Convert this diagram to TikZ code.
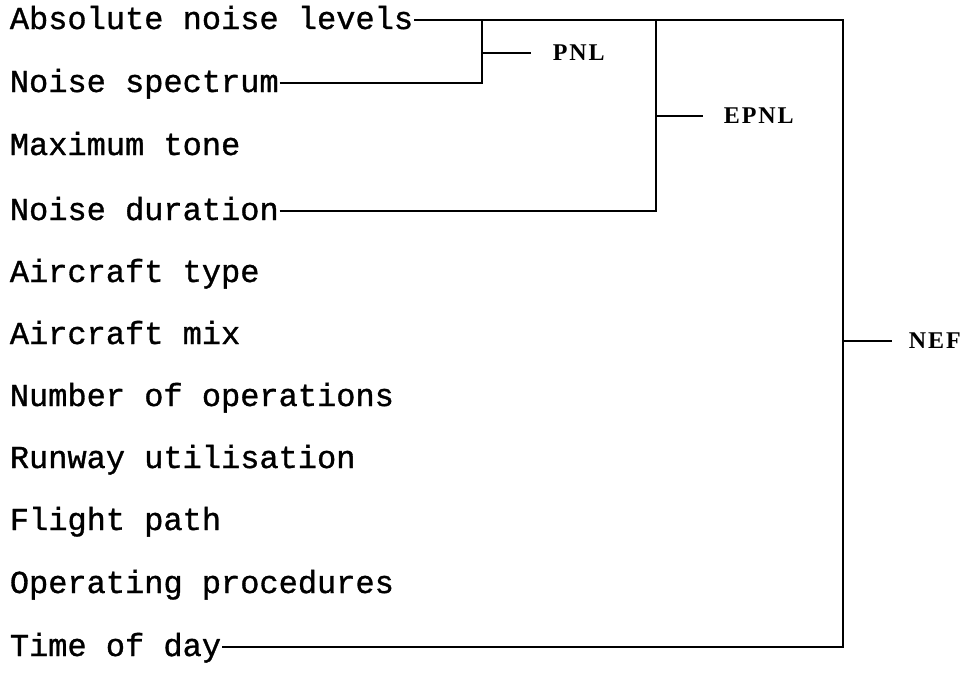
\documentclass[tikz,border=0pt]{standalone}
\usepackage{fontspec}
\newfontfamily\typefont[FakeBold=1]{Liberation Mono}
\newfontfamily\labelfont[LetterSpace=8]{Liberation Serif}
\begin{document}
\begin{tikzpicture}[
x=0.75pt,y=-0.75pt,
line width=1.3pt,
every node/.style={inner sep=0pt,text depth=0pt},
item/.style={anchor=west,font=\typefont\fontsize{24}{24}\selectfont,text height=13.5pt},
result/.style={anchor=west,font=\labelfont\bfseries\fontsize{18}{18}\selectfont,text height=11.9pt}
]
\useasboundingbox (0,0) rectangle (971,678);
\node[item] (abs) at (9,20) {Absolute noise levels};
\node[item] (spec) at (9,83) {Noise spectrum};
\node[item] (tone) at (9,146) {Maximum tone};
\node[item] (dur) at (9,211) {Noise duration};
\node[item] (type) at (9,273) {Aircraft type};
\node[item] (mix) at (9,335) {Aircraft mix};
\node[item] (ops) at (9,397) {Number of operations};
\node[item] (rwy) at (9,459) {Runway utilisation};
\node[item] (path) at (9,521) {Flight path};
\node[item] (proc) at (9,584) {Operating procedures};
\node[item] (tod) at (9,647) {Time of day};
\node[result] (pnl) at (552,53) {PNL};
\node[result] (epnl) at (723,116) {EPNL};
\node[result] (nef) at (908,341) {NEF};
\coordinate (pnlbar) at (482,0);
\coordinate (epnlbar) at (656,0);
\coordinate (nefbar) at (843,0);
% brackets
\draw (abs.east) -- (abs.east -| nefbar) -- (tod.east -| nefbar) -- (tod.east);
\draw (spec.east) -- (spec.east -| pnlbar) -- (abs.east -| pnlbar);
\draw (dur.east) -- (dur.east -| epnlbar) -- (abs.east -| epnlbar);
% stubs
\draw (pnl.west -| pnlbar) -- ([xshift=-16pt]pnl.west);
\draw (epnl.west -| epnlbar) -- ([xshift=-15pt]epnl.west);
\draw (nef.west -| nefbar) -- ([xshift=-12pt]nef.west);
\end{tikzpicture}
\end{document}
